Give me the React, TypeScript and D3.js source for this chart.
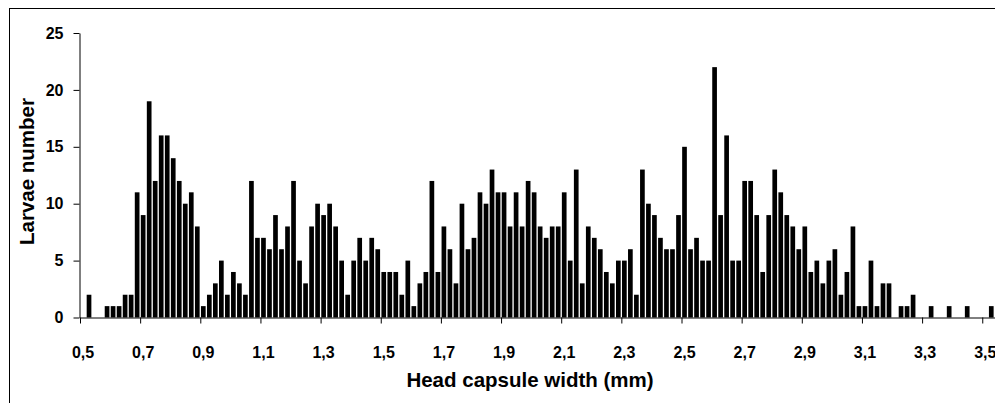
import React, { useEffect, useRef } from 'react';
import * as d3 from 'd3';

// Larvae counts per 0.02 mm class of head capsule width, starting at 0.50 mm
const counts = [
  0, 2, 0, 0, 1, 1, 1, 2, 2, 11,
  9, 19, 12, 16, 16, 14, 12, 10, 11, 8,
  1, 2, 3, 5, 2, 4, 3, 2, 12, 7,
  7, 6, 9, 6, 8, 12, 5, 3, 8, 10,
  9, 10, 8, 5, 2, 5, 7, 5, 7, 6,
  4, 4, 4, 2, 5, 1, 3, 4, 12, 4,
  8, 6, 3, 10, 6, 7, 11, 10, 13, 11,
  11, 8, 11, 8, 12, 11, 8, 7, 8, 8,
  11, 5, 13, 3, 8, 7, 6, 4, 3, 5,
  5, 6, 2, 13, 10, 9, 7, 6, 6, 9,
  15, 6, 7, 5, 5, 22, 9, 16, 5, 5,
  12, 12, 9, 4, 9, 13, 11, 9, 8, 6,
  8, 4, 5, 3, 5, 6, 2, 4, 8, 1,
  1, 5, 1, 3, 3, 0, 1, 1, 2, 0,
  0, 1, 0, 0, 1, 0, 0, 1, 0, 0,
  0, 1, 0, 0,
];

// Category labels shown on the x axis, one every 10 classes
const xTickLabels = [
  '0,5', '0,7', '0,9', '1,1', '1,3', '1,5', '1,7', '1,9',
  '2,1', '2,3', '2,5', '2,7', '2,9', '3,1', '3,3', '3,5',
];
const yTicks = [0, 5, 10, 15, 20, 25];

const FONT = '"Liberation Sans", Arial, Helvetica, sans-serif';

const App: React.FC = () => {
  const svgRef = useRef<SVGSVGElement>(null);

  useEffect(() => {
    if (!svgRef.current) return;
    const svg = d3.select(svgRef.current);
    svg.selectAll('*').remove();

    const width = 995;
    const height = 403;
    const left = 80;
    const step = 6.015;
    const n = counts.length;

    svg.attr('width', width).attr('height', height);

    svg.append('rect')
      .attr('width', width)
      .attr('height', height)
      .attr('fill', '#fff');

    // chart frame (runs off the right and bottom of the picture)
    svg.append('rect')
      .attr('x', 9.5)
      .attr('y', 8.5)
      .attr('width', 1200)
      .attr('height', 600)
      .attr('fill', 'none')
      .attr('stroke', '#000')
      .attr('stroke-width', 1);

    const x = d3.scaleBand<number>()
      .domain(d3.range(n))
      .range([left, left + n * step])
      .paddingInner(0.22)
      .paddingOuter(0.11);

    // class edges, used for tick marks and label positions
    const xEdge = d3.scaleLinear().domain([0, n]).range([left, left + n * step]);

    const y = d3.scaleLinear().domain([0, 25]).range([317.5, 33]);

    // bars
    svg.append('g')
      .selectAll('rect')
      .data(counts)
      .join('rect')
      .attr('x', (_, i) => x(i) as number)
      .attr('width', x.bandwidth())
      .attr('y', d => y(d))
      .attr('height', d => y(0) - y(d))
      .attr('fill', '#000');

    // x axis
    const tickIdx = xTickLabels.map((_, i) => i * 10);
    const xAxis = svg.append('g')
      .attr('transform', `translate(0,${y(0)})`)
      .call(
        d3.axisBottom(xEdge)
          .tickValues(tickIdx)
          .tickSize(6)
          .tickSizeOuter(0)
          .tickFormat(() => '')
      );
    xAxis.select('.domain').attr('stroke', '#000');
    xAxis.selectAll('.tick line').attr('stroke', '#000');

    svg.append('g')
      .selectAll('text')
      .data(xTickLabels)
      .join('text')
      .attr('x', (_, i) => xEdge(tickIdx[i] + 0.5))
      .attr('y', 357.5)
      .attr('text-anchor', 'middle')
      .style('font-family', FONT)
      .style('font-size', '16px')
      .style('font-weight', 'bold')
      .text(d => d);

    // y axis
    const yAxis = svg.append('g')
      .attr('transform', `translate(${left - 0.5},0)`)
      .call(
        d3.axisLeft(y)
          .tickValues(yTicks)
          .tickSize(6)
          .tickSizeOuter(0)
          .tickPadding(10)
          .tickFormat(d3.format('d'))
      );
    yAxis.select('.domain').attr('stroke', '#000');
    yAxis.selectAll('.tick line').attr('stroke', '#000');
    yAxis.selectAll('.tick text')
      .style('font-family', FONT)
      .style('font-size', '16px')
      .style('font-weight', 'bold')
      .attr('fill', '#000');

    // axis titles
    svg.append('text')
      .attr('x', 530)
      .attr('y', 386.5)
      .attr('text-anchor', 'middle')
      .style('font-family', FONT)
      .style('font-size', '20.5px')
      .style('font-weight', 'bold')
      .text('Head capsule width (mm)');

    svg.append('text')
      .attr('transform', 'translate(34,171.5) rotate(-90)')
      .attr('text-anchor', 'middle')
      .style('font-family', FONT)
      .style('font-size', '20.5px')
      .style('font-weight', 'bold')
      .text('Larvae number');
  }, []);

  return (
    <div style={{ position: 'absolute', left: 0, top: 0, width: 995, height: 403, overflow: 'hidden' }}>
      <svg ref={svgRef} style={{ display: 'block' }} />
    </div>
  );
};

export default App;
